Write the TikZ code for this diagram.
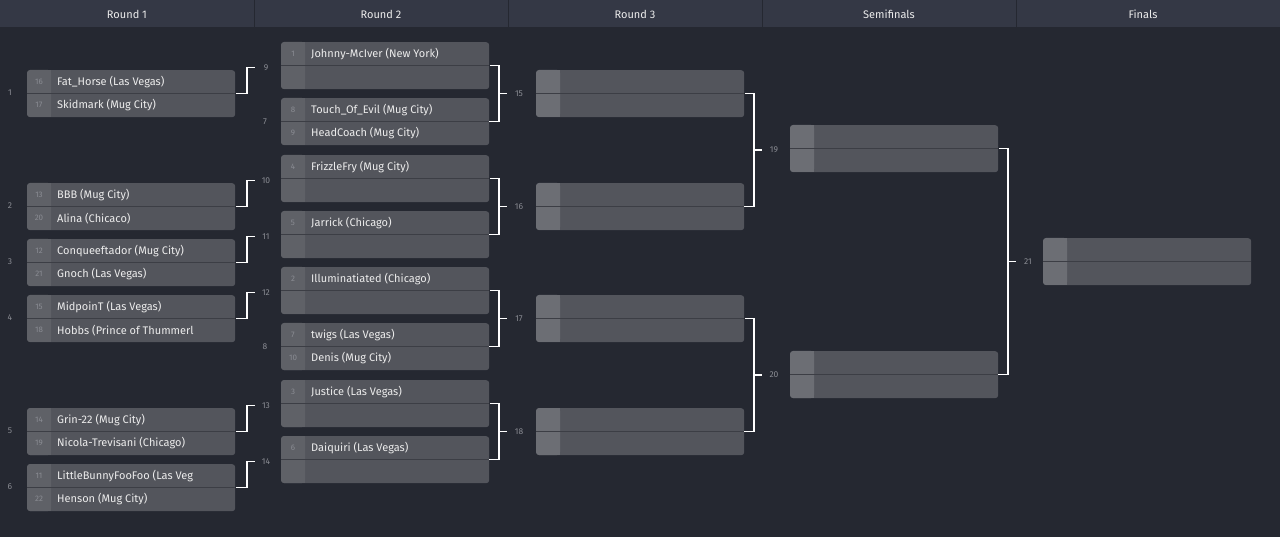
\documentclass[tikz,border=0pt]{standalone}
\usepackage{fontspec}
\setmainfont{Fira Sans}
\usetikzlibrary{calc}
\definecolor{bgcol}{HTML}{252831}
\definecolor{headcol}{HTML}{343845}
\definecolor{boxcol}{HTML}{53555C}
\definecolor{seedcol}{HTML}{5F6167}
\definecolor{emptyseed}{HTML}{6C6E74}
\definecolor{linecol}{HTML}{3C3E45}
\definecolor{numcol}{HTML}{8A8C93}
\definecolor{txtcol}{HTML}{ECECEC}

% match box: name, x, y, seed colour, seed1, player1, seed2, player2
\newcommand\bmatch[8]{%
  \node[matchbox] (#1) at (#2,#3) {};
  \fill[#4,rounded corners=3pt] (#2,#3) rectangle (#2+24,#3+47);
  \fill[#4] (#2+3,#3) rectangle (#2+24,#3+47);
  \draw[linecol] (#2,#3+23.5) -- (#2+208,#3+23.5);
  \node[seedtxt] (#1-s1) at (#2+12,#3+11.75) {#5};
  \node[seedtxt] (#1-s2) at (#2+12,#3+35.25) {#7};
  \node[playertxt] (#1-p1) at (#2+30,#3+11.75) {#6};
  \node[playertxt] (#1-p2) at (#2+30,#3+35.25) {#8};
  \coordinate (#1-r) at (#2+208,#3+23.5);
  \coordinate (#1-l) at (#2,#3+23.5);
}

\begin{document}
\begin{tikzpicture}
[
x=1pt,y=-1pt,
matchbox/.style={fill=boxcol,rounded corners=3pt,anchor=north west,minimum width=208pt,minimum height=47pt,inner sep=0pt},
seedtxt/.style={text=numcol,font=\fontsize{8}{9}\selectfont,inner sep=0pt},
playertxt/.style={text=txtcol,anchor=west,font=\fontsize{11}{13}\selectfont,inner sep=0pt},
headtxt/.style={text=txtcol,font=\fontsize{11}{13}\selectfont},
numtxt/.style={text=numcol,font=\fontsize{8.5}{10}\selectfont,inner sep=0pt},
bracket/.style={draw=white,line width=1.6pt},
]
\useasboundingbox (0,0) rectangle (1280,537);
\fill[bgcol] (0,0) rectangle (1280,537);

%Header
\fill[headcol] (0,0) rectangle (1280,27);
\draw[bgcol] (254,0) -- (254,27) (508,0) -- (508,27) (762,0) -- (762,27) (1016,0) -- (1016,27);
\node[headtxt] (h1) at (127,14) {Round 1};
\node[headtxt] (h2) at (381,14) {Round 2};
\node[headtxt] (h3) at (635,14) {Round 3};
\node[headtxt] (h4) at (889,14) {Semifinals};
\node[headtxt] (h5) at (1143,14) {Finals};

%Round 1
\bmatch{m1}{27}{70}{seedcol}{16}{Fat\_Horse (Las Vegas)}{17}{Skidmark (Mug City)}
\bmatch{m2}{27}{183}{seedcol}{13}{BBB (Mug City)}{20}{Alina (Chicaco)}
\bmatch{m3}{27}{239}{seedcol}{12}{Conqueeftador (Mug City)}{21}{Gnoch (Las Vegas)}
\bmatch{m4}{27}{295}{seedcol}{15}{MidpoinT (Las Vegas)}{18}{Hobbs (Prince of Thummerl}
\bmatch{m5}{27}{408}{seedcol}{14}{Grin-22 (Mug City)}{19}{Nicola-Trevisani (Chicago)}
\bmatch{m6}{27}{464}{seedcol}{11}{LittleBunnyFooFoo (Las Veg}{22}{Henson (Mug City)}
\node[numtxt] (n1) at (10,93) {1};
\node[numtxt] (n2) at (10,206) {2};
\node[numtxt] (n3) at (10,262) {3};
\node[numtxt] (n4) at (10,318) {4};
\node[numtxt] (n5) at (10,431) {5};
\node[numtxt] (n6) at (10,487) {6};

%Round 2
\bmatch{m9}{281}{42}{seedcol}{1}{Johnny-McIver (New York)}{}{}
\bmatch{m7}{281}{98}{seedcol}{8}{Touch\_Of\_Evil (Mug City)}{9}{HeadCoach (Mug City)}
\bmatch{m10}{281}{155}{seedcol}{4}{FrizzleFry (Mug City)}{}{}
\bmatch{m11}{281}{211}{seedcol}{5}{Jarrick (Chicago)}{}{}
\bmatch{m12}{281}{267}{seedcol}{2}{Illuminatiated (Chicago)}{}{}
\bmatch{m8}{281}{323}{seedcol}{7}{twigs (Las Vegas)}{10}{Denis (Mug City)}
\bmatch{m13}{281}{380}{seedcol}{3}{Justice (Las Vegas)}{}{}
\bmatch{m14}{281}{436}{seedcol}{6}{Daiquiri (Las Vegas)}{}{}
\node[numtxt] (n7) at (265,122) {7};
\node[numtxt] (n8) at (265,347) {8};

%Round 3, semifinals, final
\bmatch{m15}{536}{70}{emptyseed}{}{}{}{}
\bmatch{m16}{536}{183}{emptyseed}{}{}{}{}
\bmatch{m17}{536}{295}{emptyseed}{}{}{}{}
\bmatch{m18}{536}{408}{emptyseed}{}{}{}{}
\bmatch{m19}{790}{125}{emptyseed}{}{}{}{}
\bmatch{m20}{790}{351}{emptyseed}{}{}{}{}
\bmatch{m21}{1043}{238}{emptyseed}{}{}{}{}

%Round 1 brackets
\foreach \a/\b in {m1/9,m2/10,m3/11,m4/12,m5/13,m6/14}{
  \draw[bracket] (\a-r) ++(1,0) -| ++(11,-26) -- ++(8,0);
  \node[numtxt] (n\b) at ([xshift=31pt,yshift=26pt]\a-r) {\b};
}

%Later brackets
\foreach \a/\b/\c in {m9/m7/15,m10/m11/16,m12/m8/17,m13/m14/18,m15/m16/19,m17/m18/20,m19/m20/21}{
  \draw[bracket] (\a-r) ++(1,0) -- ++(9,0) |- ([xshift=1pt]\b-r) -- ++(-1,0);
  \draw[bracket] ($(\a-r)!0.5!(\b-r)$) ++(10,0) -- ++(8,0);
  \node[numtxt] (n\c) at ([xshift=30pt]$(\a-r)!0.5!(\b-r)$) {\c};
}
\end{tikzpicture}
\end{document}
